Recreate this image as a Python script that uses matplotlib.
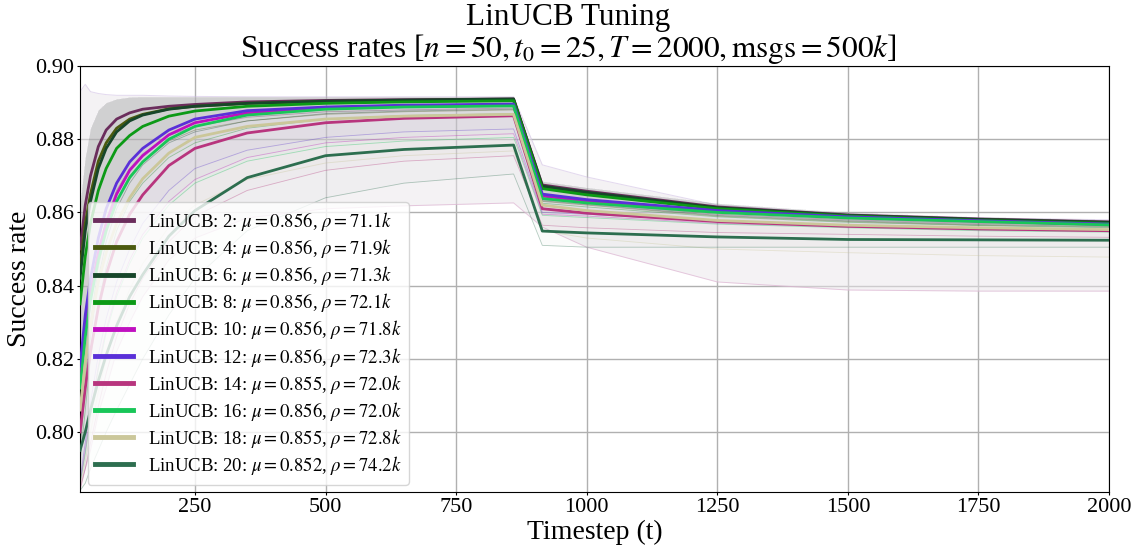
import matplotlib
matplotlib.use("Agg")
import matplotlib.pyplot as plt
import numpy as np

plt.rcParams['font.family'] = ['Liberation Serif', 'DejaVu Serif']
plt.rcParams['mathtext.fontset'] = 'stix'

# timesteps where the success rates were logged
timesteps = [30, 40, 50, 65, 80, 100, 125, 150, 200, 250, 350, 500, 650, 860, 915, 1000, 1250, 1500, 1750, 2000]

configs = [2, 4, 6, 8, 10, 12, 14, 16, 18, 20]
mu_vals = [0.856, 0.856, 0.856, 0.856, 0.856, 0.856, 0.855, 0.856, 0.855, 0.852]
rho_vals = [71.1, 71.9, 71.3, 72.1, 71.8, 72.3, 72.0, 72.0, 72.8, 74.2]
colors = ['#6b2d5c', '#4b5a0f', '#17462a', '#0c9a16', '#c010c0',
          '#5a30d8', '#b8357e', '#18c658', '#cbc79a', '#2d6e4f']

# mean success rate per config
mean_2 = [0.850, 0.862, 0.870, 0.878, 0.8825, 0.8855, 0.8872, 0.8882, 0.889, 0.8895, 0.8902, 0.8906, 0.8908, 0.8910, 0.8675, 0.8658, 0.8615, 0.8593, 0.8582, 0.8574]
mean_4 = [0.845, 0.857, 0.865, 0.874, 0.879, 0.883, 0.8855, 0.8868, 0.8883, 0.889, 0.8898, 0.8903, 0.8906, 0.8908, 0.867, 0.8653, 0.8612, 0.8591, 0.858, 0.8572]
mean_6 = [0.842, 0.855, 0.863, 0.872, 0.8775, 0.882, 0.885, 0.8866, 0.8882, 0.889, 0.8898, 0.8904, 0.8907, 0.891, 0.8672, 0.8655, 0.8613, 0.8592, 0.8581, 0.8573]
mean_8 = [0.835, 0.848, 0.857, 0.866, 0.872, 0.8775, 0.881, 0.8835, 0.8863, 0.8877, 0.889, 0.8898, 0.8902, 0.8905, 0.8665, 0.8648, 0.861, 0.859, 0.8578, 0.857]
mean_10 = [0.815, 0.828, 0.838, 0.849, 0.857, 0.865, 0.8715, 0.8755, 0.8812, 0.8845, 0.8872, 0.8885, 0.889, 0.8893, 0.8645, 0.863, 0.8603, 0.8586, 0.8576, 0.8567]
mean_12 = [0.818, 0.832, 0.842, 0.853, 0.861, 0.868, 0.8738, 0.8775, 0.8825, 0.8855, 0.8878, 0.8888, 0.8893, 0.8896, 0.865, 0.8635, 0.8605, 0.8588, 0.8577, 0.8568]
mean_14 = [0.800, 0.812, 0.822, 0.834, 0.843, 0.852, 0.8595, 0.8648, 0.8728, 0.8775, 0.8817, 0.8845, 0.8857, 0.8864, 0.861, 0.8598, 0.8575, 0.8562, 0.8555, 0.855]
mean_16 = [0.812, 0.826, 0.836, 0.847, 0.855, 0.863, 0.8695, 0.8738, 0.880, 0.8835, 0.8866, 0.8882, 0.8888, 0.8891, 0.8638, 0.8626, 0.860, 0.8585, 0.8575, 0.8566]
mean_18 = [0.806, 0.819, 0.829, 0.841, 0.849, 0.857, 0.864, 0.8692, 0.8762, 0.8805, 0.8835, 0.8855, 0.8863, 0.8868, 0.862, 0.8605, 0.8578, 0.8565, 0.8558, 0.8553]
mean_20 = [0.795, 0.800, 0.806, 0.814, 0.821, 0.829, 0.837, 0.843, 0.8535, 0.8605, 0.8695, 0.8755, 0.8772, 0.8784, 0.8549, 0.8544, 0.8533, 0.8526, 0.8525, 0.8524]

# lower edge of the individual runs for each config
runs_lo_2 = [0.80, 0.82, 0.835, 0.85, 0.858, 0.866, 0.872, 0.876, 0.881, 0.8835, 0.886, 0.8875, 0.888, 0.8885, 0.8635, 0.8625, 0.8595, 0.858, 0.857, 0.8565]
runs_lo_4 = [0.798, 0.815, 0.83, 0.845, 0.855, 0.863, 0.87, 0.874, 0.8795, 0.8825, 0.885, 0.8868, 0.8875, 0.888, 0.863, 0.862, 0.859, 0.8575, 0.8565, 0.856]
runs_lo_6 = [0.795, 0.812, 0.826, 0.842, 0.852, 0.861, 0.868, 0.873, 0.879, 0.882, 0.885, 0.887, 0.8877, 0.8882, 0.8632, 0.8622, 0.8592, 0.8577, 0.8567, 0.8562]
runs_lo_8 = [0.792, 0.806, 0.82, 0.835, 0.845, 0.855, 0.863, 0.868, 0.875, 0.879, 0.883, 0.8855, 0.8865, 0.887, 0.8625, 0.8615, 0.8588, 0.8573, 0.8564, 0.8558]
runs_lo_10 = [0.786, 0.795, 0.805, 0.818, 0.828, 0.838, 0.847, 0.854, 0.863, 0.869, 0.875, 0.879, 0.8805, 0.8815, 0.8595, 0.859, 0.857, 0.856, 0.8552, 0.8548]
runs_lo_12 = [0.787, 0.797, 0.808, 0.821, 0.831, 0.841, 0.85, 0.857, 0.866, 0.872, 0.877, 0.8805, 0.882, 0.8828, 0.860, 0.8595, 0.8575, 0.8563, 0.8555, 0.855]
runs_lo_14 = [0.784, 0.79, 0.797, 0.807, 0.816, 0.826, 0.835, 0.842, 0.852, 0.859, 0.866, 0.8715, 0.874, 0.8755, 0.8565, 0.8558, 0.8545, 0.854, 0.8535, 0.8532]
runs_lo_16 = [0.786, 0.794, 0.804, 0.817, 0.827, 0.837, 0.846, 0.853, 0.862, 0.868, 0.874, 0.878, 0.8795, 0.8805, 0.8592, 0.8586, 0.8568, 0.8558, 0.855, 0.8546]
runs_lo_18 = [0.785, 0.792, 0.80, 0.811, 0.82, 0.83, 0.839, 0.846, 0.856, 0.862, 0.869, 0.8735, 0.8755, 0.8768, 0.855, 0.853, 0.85, 0.849, 0.8482, 0.8478]
runs_lo_20 = [0.784, 0.786, 0.79, 0.795, 0.80, 0.806, 0.813, 0.82, 0.832, 0.842, 0.855, 0.864, 0.868, 0.8705, 0.851, 0.8505, 0.8505, 0.8505, 0.8505, 0.8505]

# upper edge shared by the runs
runs_hi = [0.862, 0.875, 0.883, 0.888, 0.890, 0.891, 0.8915, 0.8916, 0.8916, 0.8916, 0.8916, 0.8916, 0.8916, 0.8916, 0.8685, 0.8668, 0.8625, 0.8600, 0.8588, 0.8580]

# outer envelope over all configs
env_hi = [0.893, 0.895, 0.893, 0.8925, 0.8922, 0.892, 0.892, 0.892, 0.8918, 0.8917, 0.8916, 0.8916, 0.8916, 0.8916, 0.873, 0.8697, 0.862, 0.8595, 0.8585, 0.858]
env_lo = [0.785, 0.79, 0.795, 0.805, 0.812, 0.822, 0.83, 0.837, 0.847, 0.853, 0.8585, 0.861, 0.8618, 0.8626, 0.856, 0.8505, 0.841, 0.8388, 0.8385, 0.8385]

means = [mean_2, mean_4, mean_6, mean_8, mean_10, mean_12, mean_14, mean_16, mean_18, mean_20]
runs_lo = [runs_lo_2, runs_lo_4, runs_lo_6, runs_lo_8, runs_lo_10,
           runs_lo_12, runs_lo_14, runs_lo_16, runs_lo_18, runs_lo_20]

fig = plt.figure(figsize=(11.37, 5.47), dpi=100)
ax = fig.add_axes([0.0704, 0.1005, 0.905, 0.7788])

# shaded envelope over every run
ax.fill_between(timesteps, env_lo, env_hi, color='#ebe6eb', alpha=0.5, lw=0, zorder=1)
ax.plot(timesteps, env_lo, color='#d9a9cc', lw=0.7, alpha=0.6, zorder=1)
ax.plot(timesteps, env_hi, color='#c9b5e0', lw=0.7, alpha=0.5, zorder=1)

# faint spread of the runs of each config
for lo, c in zip(runs_lo, colors):
    ax.fill_between(timesteps, lo, runs_hi, color=c, alpha=0.025, lw=0, zorder=2)
    ax.plot(timesteps, lo, color=c, lw=0.6, alpha=0.35, zorder=2)

for cfg, m, mu, rho, c in zip(configs, means, mu_vals, rho_vals, colors):
    lbl = 'LinUCB: %d: $\\mu=%.3f$, $\\rho=%.1fk$' % (cfg, mu, rho)
    ax.plot(timesteps, m, color=c, lw=2, zorder=3, label=lbl)

ax.set_xlim(30, 2000)
ax.set_ylim(0.7836, 0.90)
ax.set_xticks([250, 500, 750, 1000, 1250, 1500, 1750, 2000])
ax.set_yticks([0.80, 0.82, 0.84, 0.86, 0.88, 0.90])
ax.yaxis.set_major_formatter(matplotlib.ticker.FormatStrFormatter('%.2f'))
ax.tick_params(labelsize=16, length=2, pad=2.5)
ax.grid(True, color='#b0b0b0', lw=1, zorder=0)
ax.set_axisbelow(True)

ax.set_xlabel('Timestep (t)', fontsize=20, labelpad=2)
ax.set_ylabel('Success rate', fontsize=20, labelpad=2)
ax.set_title('LinUCB Tuning\nSuccess rates [$n=50, t_0=25, T=2000, \\mathrm{msgs}=500k$]',
             fontsize=22.5, linespacing=1.0, pad=-1.5, x=0.4747)

leg = ax.legend(loc='lower left', fontsize=13.5, framealpha=0.8, handlelength=2.0,
                borderaxespad=0.4, labelspacing=0.22)
for line in leg.get_lines():
    line.set_linewidth(3.5)

fig.savefig('out.png', dpi=100)
